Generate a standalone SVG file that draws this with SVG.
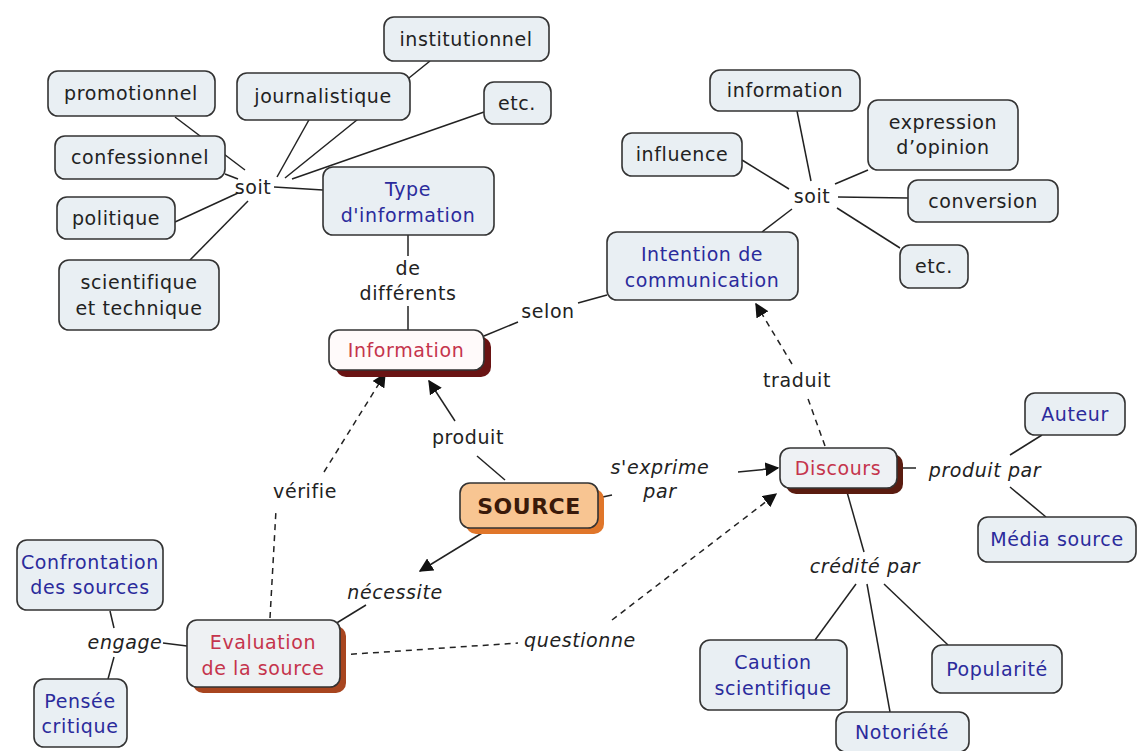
<svg xmlns="http://www.w3.org/2000/svg" width="1139" height="751" viewBox="0 0 1139 751">
<defs>
<style>
.n{fill:#e9eff3;stroke:#333;stroke-width:1.6}
.t{font-family:"DejaVu Sans",Verdana,sans-serif;font-size:19px;letter-spacing:0.6px;fill:#222;text-anchor:middle}
.b{fill:#2b2b9c}
.r{fill:#c5344c}
.i{font-style:italic}
.c line{stroke:#222;stroke-width:1.5;fill:none}
.c .d{stroke-dasharray:6 5}
</style>
<marker id="ah" viewBox="0 0 10 10" refX="9" refY="5" markerWidth="14" markerHeight="14" markerUnits="userSpaceOnUse" orient="auto">
<path d="M0,0L10,5L0,10z" fill="#111"/>
</marker>
</defs>
<rect width="1139" height="751" fill="#fff"/>
<g class="c" id="connectors">
<line x1="175" y1="117" x2="245" y2="170"/>
<line x1="225" y1="174" x2="238" y2="179"/>
<line x1="175" y1="222" x2="238" y2="193"/>
<line x1="190" y1="260" x2="248" y2="201"/>
<line x1="310" y1="118" x2="277" y2="177"/>
<line x1="430" y1="61" x2="285" y2="178"/>
<line x1="484" y1="112" x2="292" y2="179"/>
<line x1="323" y1="190" x2="274" y2="187"/>
<line x1="408" y1="235" x2="408" y2="256"/>
<line x1="408" y1="306" x2="408" y2="330"/>
<line x1="484" y1="336" x2="518" y2="322"/>
<line x1="578" y1="303" x2="607" y2="295"/>
<line x1="797" y1="111" x2="811" y2="181"/>
<line x1="742" y1="160" x2="789" y2="189"/>
<line x1="868" y1="170" x2="835" y2="184"/>
<line x1="908" y1="198" x2="838" y2="197"/>
<line x1="900" y1="248" x2="837" y2="208"/>
<line x1="762" y1="232" x2="792" y2="209"/>
<line x1="505" y1="480" x2="477" y2="456"/>
<line x1="455" y1="421" x2="429" y2="381" marker-end="url(#ah)"/>
<line class="d" x1="270" y1="618" x2="276" y2="510"/>
<line class="d" x1="324" y1="472" x2="385" y2="374" marker-end="url(#ah)"/>
<line x1="487" y1="530" x2="420" y2="571" marker-end="url(#ah)"/>
<line x1="366" y1="605" x2="335" y2="624"/>
<line x1="598" y1="498" x2="612" y2="495"/>
<line x1="738" y1="472" x2="778" y2="468" marker-end="url(#ah)"/>
<line class="d" x1="340" y1="655" x2="518" y2="643"/>
<line class="d" x1="612" y1="620" x2="776" y2="494" marker-end="url(#ah)"/>
<line class="d" x1="825" y1="446" x2="807" y2="396"/>
<line class="d" x1="792" y1="364" x2="756" y2="304" marker-end="url(#ah)"/>
<line x1="897" y1="468" x2="916" y2="468"/>
<line x1="1010" y1="455" x2="1042" y2="435"/>
<line x1="1010" y1="487" x2="1046" y2="517"/>
<line x1="847" y1="492" x2="864" y2="552"/>
<line x1="856" y1="584" x2="815" y2="640"/>
<line x1="867" y1="584" x2="890" y2="712"/>
<line x1="884" y1="584" x2="948" y2="645"/>
<line x1="110" y1="611" x2="114" y2="628"/>
<line x1="114" y1="657" x2="108" y2="679"/>
<line x1="163" y1="643" x2="187" y2="646"/>
</g>
<g id="labels">
<text class="t" x="253" y="194">soit</text>
<text class="t" x="408" y="275">de</text>
<text class="t" x="408" y="300">différents</text>
<text class="t" x="548" y="318">selon</text>
<text class="t" x="812" y="203">soit</text>
<text class="t" x="797" y="387">traduit</text>
<text class="t" x="468" y="444">produit</text>
<text class="t i" x="660" y="474">s'exprime</text>
<text class="t i" x="660" y="498">par</text>
<text class="t i" x="985" y="477">produit par</text>
<text class="t i" x="865" y="573">crédité par</text>
<text class="t" x="305" y="498">vérifie</text>
<text class="t i" x="395" y="599">nécessite</text>
<text class="t i" x="125" y="649">engage</text>
<text class="t i" x="580" y="647">questionne</text>
</g>
<g id="institutionnel"><rect class="n" x="384" y="17" width="165" height="44" rx="10"/><text class="t" x="466" y="46">institutionnel</text></g>
<g id="promotionnel"><rect class="n" x="48" y="71" width="167" height="45" rx="10"/><text class="t" x="131" y="100">promotionnel</text></g>
<g id="journalistique"><rect class="n" x="237" y="73" width="173" height="47" rx="10"/><text class="t" x="323" y="103">journalistique</text></g>
<g id="etc-left"><rect class="n" x="484" y="82" width="67" height="42" rx="10"/><text class="t" x="517" y="110">etc.</text></g>
<g id="confessionnel"><rect class="n" x="55" y="136" width="170" height="43" rx="10"/><text class="t" x="140" y="164">confessionnel</text></g>
<g id="politique"><rect class="n" x="57" y="197" width="118" height="42" rx="10"/><text class="t" x="116" y="225">politique</text></g>
<g id="scientifique"><rect class="n" x="59" y="260" width="160" height="70" rx="10"/><text class="t" x="139" y="289">scientifique</text><text class="t" x="139" y="315">et technique</text></g>
<g id="type-information"><rect class="n" x="323" y="167" width="171" height="68" rx="10"/><text class="t b" x="408" y="196">Type</text><text class="t b" x="408" y="222">d'information</text></g>
<g id="information-main"><rect x="336" y="337" width="155" height="40" rx="10" fill="#6a1414"/><rect x="329" y="330" width="155" height="40" rx="10" fill="#fffafa" stroke="#333" stroke-width="1.6"/><text class="t r" x="406" y="357">Information</text></g>
<g id="intention"><rect class="n" x="607" y="232" width="191" height="68" rx="10"/><text class="t b" x="702" y="261">Intention de</text><text class="t b" x="702" y="287">communication</text></g>
<g id="information-right"><rect class="n" x="710" y="70" width="150" height="41" rx="10"/><text class="t" x="785" y="97">information</text></g>
<g id="influence"><rect class="n" x="622" y="133" width="120" height="43" rx="10"/><text class="t" x="682" y="161">influence</text></g>
<g id="expression"><rect class="n" x="868" y="100" width="150" height="70" rx="10"/><text class="t" x="943" y="129">expression</text><text class="t" x="943" y="154">d’opinion</text></g>
<g id="conversion"><rect class="n" x="908" y="180" width="150" height="42" rx="10"/><text class="t" x="983" y="208">conversion</text></g>
<g id="etc-right"><rect class="n" x="900" y="245" width="68" height="43" rx="10"/><text class="t" x="934" y="273">etc.</text></g>
<g id="source"><rect x="466" y="489" width="138" height="45" rx="10" fill="#e0762a"/><rect x="460" y="483" width="138" height="45" rx="10" fill="#f8c592" stroke="#333" stroke-width="1.6"/><text class="t" x="529" y="514" style="font-size:22px;font-weight:bold;letter-spacing:0.5px;fill:#3a1a0a">SOURCE</text></g>
<g id="discours"><rect x="786" y="454" width="117" height="40" rx="10" fill="#5a1c10"/><rect x="780" y="448" width="117" height="40" rx="10" fill="#eef1f4" stroke="#333" stroke-width="1.6"/><text class="t r" x="838" y="475">Discours</text></g>
<g id="auteur"><rect class="n" x="1025" y="393" width="100" height="42" rx="10"/><text class="t b" x="1075" y="421">Auteur</text></g>
<g id="media-source"><rect class="n" x="978" y="517" width="158" height="45" rx="10"/><text class="t b" x="1057" y="546">Média source</text></g>
<g id="caution"><rect class="n" x="700" y="640" width="147" height="70" rx="10"/><text class="t b" x="773" y="669">Caution</text><text class="t b" x="773" y="695">scientifique</text></g>
<g id="popularite"><rect class="n" x="932" y="645" width="130" height="48" rx="10"/><text class="t b" x="997" y="676">Popularité</text></g>
<g id="notoriete"><rect class="n" x="836" y="712" width="133" height="40" rx="10"/><text class="t b" x="902" y="739">Notoriété</text></g>
<g id="confrontation"><rect class="n" x="17" y="540" width="146" height="70" rx="10"/><text class="t b" x="90" y="569">Confrontation</text><text class="t b" x="90" y="594">des sources</text></g>
<g id="pensee"><rect class="n" x="34" y="679" width="93" height="68" rx="10"/><text class="t b" x="80" y="708">Pensée</text><text class="t b" x="80" y="733">critique</text></g>
<g id="evaluation"><rect x="193" y="626" width="153" height="67" rx="10" fill="#a8451f"/><rect x="187" y="620" width="153" height="67" rx="10" fill="#eef1f3" stroke="#333" stroke-width="1.6"/><text class="t r" x="263" y="649">Evaluation</text><text class="t r" x="263" y="675">de la source</text></g>
</svg>
